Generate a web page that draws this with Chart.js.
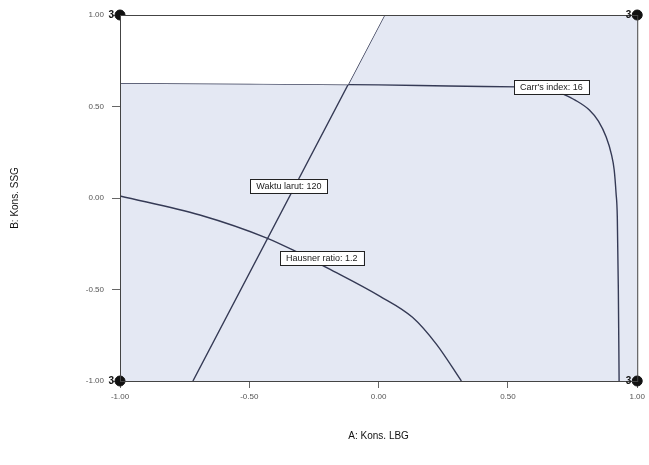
<!DOCTYPE html>
<html>
<head>
<meta charset="utf-8">
<script src="https://cdn.jsdelivr.net/npm/chart.js@4.4.1/dist/chart.umd.min.js"></script>
<style>
    html, body { margin: 0; padding: 0; background: #fff; }
    #wrap { width: 649px; height: 465px; }
</style>
</head>
<body>
<div id="wrap"><canvas id="chart" width="649" height="465"></canvas></div>
<script>
// axis ticks (coded factor levels)
const tickValues = [-1.0, -0.5, 0.0, 0.5, 1.0]

// contour: Carr's index = 16
const carrX = [-1.0, -0.5, 0.0, 0.27, 0.54, 0.66, 0.71, 0.76, 0.815, 0.85, 0.88, 0.9, 0.911, 0.918, 0.923, 0.927, 0.93]
const carrY = [0.628, 0.624, 0.618, 0.612, 0.607, 0.6, 0.57, 0.535, 0.481, 0.42, 0.333, 0.24, 0.153, 0.03, -0.104, -0.5, -1.0]

// contour: Waktu larut = 120
const waktuX = [-0.718, 0.023]
const waktuY = [-1.0, 1.0]

// contour: Hausner ratio = 1.2
const hausnerX = [-1.0, -0.691, -0.432, -0.332, -0.197, 0.004, 0.131, 0.224, 0.32]
const hausnerY = [0.011, -0.093, -0.219, -0.284, -0.383, -0.536, -0.652, -0.8, -1.0]

// boundary of the unshaded (white) region: along Carr, then up Waktu to the top
const whiteX = [-1.0, -0.5, -0.118, 0.023]
const whiteY = [0.628, 0.624, 0.62, 1.0]

// design points (corners) with replicate count
const designX = [-1.0, 1.0, -1.0, 1.0]
const designY = [1.0, 1.0, -1.0, -1.0]
const designReps = ['3', '3', '3', '3']

// contour flags: text and the point on the contour where the flag sits
const flagTexts = ["Carr's index: 16", 'Waktu larut: 120', 'Hausner ratio: 1.2']
const flagX = [0.668, -0.347, -0.22]
const flagY = [0.607, 0.066, -0.328]

const toPoints = (xs, ys) => xs.map((x, i) => ({ x, y: ys[i] }))

const lineColor = '#353a55'

const overlayPlugin = {
    id: 'overlay',
    beforeDatasetsDraw(chart) {
        const { ctx, chartArea: a } = chart
        ctx.save()
        ctx.fillStyle = '#e4e8f3'
        ctx.fillRect(a.left, a.top, a.right - a.left, a.bottom - a.top)
        ctx.restore()
    },
    afterDatasetsDraw(chart) {
        const { ctx, chartArea: a, scales } = chart
        ctx.save()
        ctx.strokeStyle = '#444'
        ctx.lineWidth = 1
        ctx.strokeRect(a.left + 0.5, a.top + 0.5, a.right - a.left, a.bottom - a.top)

        // contour flags
        ctx.font = '9px "Liberation Sans", Arial, sans-serif'
        ctx.textBaseline = 'middle'
        ctx.textAlign = 'center'
        flagTexts.forEach((t, i) => {
            const px = scales.x.getPixelForValue(flagX[i])
            const py = scales.y.getPixelForValue(flagY[i])
            const w = ctx.measureText(t).width + 12
            const h = 14
            ctx.fillStyle = '#fff'
            ctx.fillRect(px - w / 2, py - h / 2, w, h)
            ctx.strokeStyle = '#222'
            ctx.strokeRect(Math.round(px - w / 2) + 0.5, Math.round(py - h / 2) + 0.5, Math.round(w), h)
            ctx.fillStyle = '#222'
            ctx.fillText(t, px, py + 0.5)
        })

        // replicate counts next to the design points
        ctx.font = 'bold 10px "Liberation Sans", Arial, sans-serif'
        ctx.textAlign = 'right'
        ctx.fillStyle = '#111'
        designReps.forEach((r, i) => {
            const px = scales.x.getPixelForValue(designX[i])
            const py = scales.y.getPixelForValue(designY[i])
            ctx.fillText(r, px - 6, py)
        })
        ctx.restore()
    },
}

const lineDs = (label, pts) => ({
    label,
    data: pts,
    showLine: true,
    borderColor: lineColor,
    borderWidth: 1.4,
    pointRadius: 0,
    fill: false,
    cubicInterpolationMode: 'monotone',
})

new Chart(document.getElementById('chart'), {
    type: 'scatter',
    data: {
        datasets: [
            {
                label: 'white',
                data: toPoints(whiteX, whiteY),
                showLine: true,
                borderWidth: 0,
                borderColor: 'rgba(0,0,0,0)',
                pointRadius: 0,
                fill: 'end',
                backgroundColor: '#ffffff',
            },
            lineDs("Carr's index", toPoints(carrX, carrY)),
            lineDs('Waktu larut', toPoints(waktuX, waktuY)),
            lineDs('Hausner ratio', toPoints(hausnerX, hausnerY)),
            {
                label: 'design',
                data: toPoints(designX, designY),
                pointRadius: 5,
                pointBackgroundColor: '#111',
                pointBorderColor: '#111',
                clip: false,
            },
        ],
    },
    options: {
        responsive: false,
        animation: false,
        layout: { padding: { top: 15, right: 11, left: 0, bottom: 0 } },
        plugins: {
            legend: { display: false },
            tooltip: { enabled: false },
        },
        scales: {
            x: {
                type: 'linear',
                min: -1,
                max: 1,
                afterBuildTicks: s => { s.ticks = tickValues.map(v => ({ value: v })) },
                afterFit: s => { s.height = 84 },
                ticks: {
                    callback: v => v.toFixed(2),
                    font: { size: 8, family: '"Liberation Sans", Arial, sans-serif' },
                    color: '#555',
                    padding: 4,
                    maxRotation: 0,
                },
                grid: { drawOnChartArea: false, tickLength: 7, color: '#666' },
                border: { display: false },
                title: {
                    display: true,
                    text: 'A: Kons. LBG',
                    font: { size: 10, family: '"Liberation Sans", Arial, sans-serif' },
                    color: '#111',
                    padding: { top: 0, bottom: 23 },
                },
            },
            y: {
                type: 'linear',
                min: -1,
                max: 1,
                afterBuildTicks: s => { s.ticks = tickValues.map(v => ({ value: v })) },
                afterFit: s => { s.width = 120 },
                ticks: {
                    callback: v => v.toFixed(2),
                    font: { size: 8, family: '"Liberation Sans", Arial, sans-serif' },
                    color: '#555',
                    padding: 8,
                },
                grid: { drawOnChartArea: false, tickLength: 8, color: '#666' },
                border: { display: false },
                title: {
                    display: true,
                    text: 'B: Kons. SSG',
                    font: { size: 10, family: '"Liberation Sans", Arial, sans-serif' },
                    color: '#111',
                    padding: { top: 9, bottom: 0 },
                },
            },
        },
    },
    plugins: [overlayPlugin],
})
</script>
</body>
</html>
